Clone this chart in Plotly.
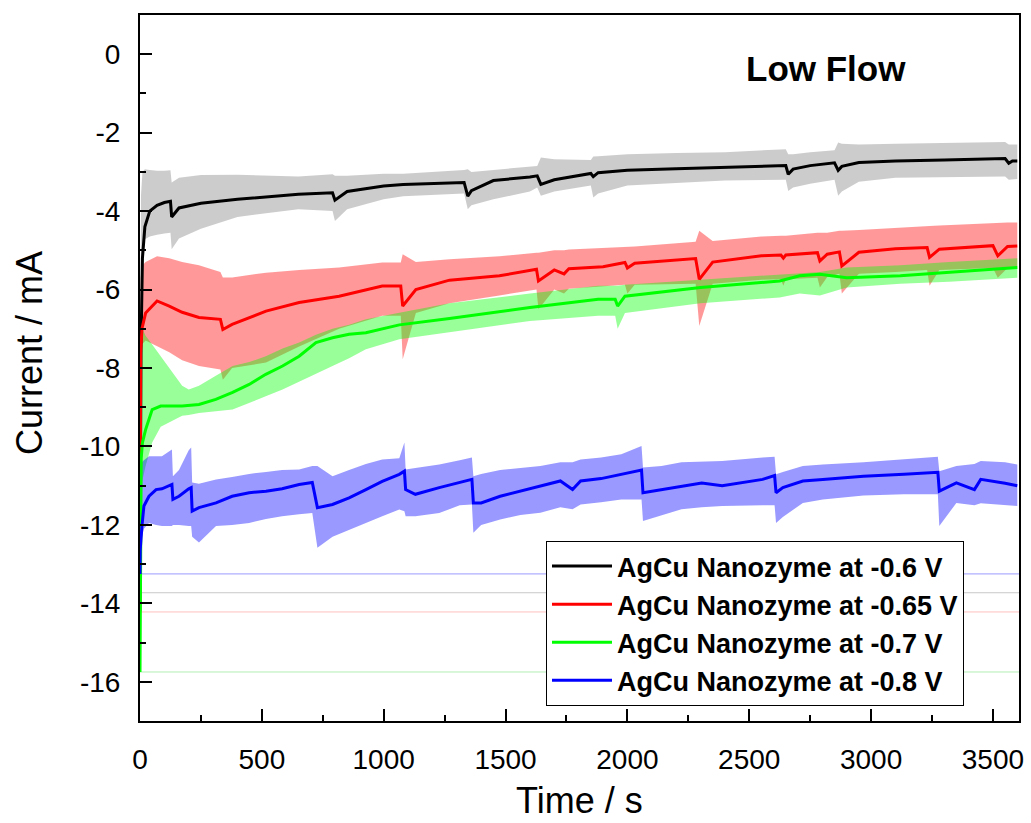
import plotly.graph_objects as go

# ---------------- data ----------------
names = ["AgCu Nanozyme at -0.6 V", "AgCu Nanozyme at -0.65 V",
         "AgCu Nanozyme at -0.7 V", "AgCu Nanozyme at -0.8 V"]

# -0.6 V
t_06 = [0, 4, 10, 20, 40, 70, 100, 125, 130, 160, 250, 400, 650, 790, 800, 850, 1000, 1080, 1330, 1345, 1360,
        1450, 1600, 1630, 1645, 1700, 1850, 1860, 1880, 2000, 2200, 2400, 2650, 2660, 2680, 2750, 2850, 2865,
        2880, 2950, 3100, 3300, 3550, 3565, 3580, 3600]
m_06 = [-13.7, -7.5, -5.2, -4.4, -4.0, -3.85, -3.78, -3.75, -4.15, -3.92, -3.8, -3.7, -3.57, -3.53, -3.72, -3.5,
        -3.36, -3.32, -3.27, -3.62, -3.48, -3.22, -3.13, -3.1, -3.32, -3.2, -3.04, -3.12, -3.02, -2.96, -2.92,
        -2.88, -2.84, -3.06, -2.93, -2.84, -2.77, -2.96, -2.86, -2.76, -2.72, -2.7, -2.66, -2.78, -2.72, -2.72]
hi_06 = [-13.7, -3.6, -3.0, -2.93, -2.95, -2.97, -2.97, -2.96, -3.27, -3.15, -3.08, -3.07, -3.12, -3.06, -3.1,
         -3.1, -3.05, -3.05, -2.95, -2.93, -3.0, -2.95, -2.85, -2.85, -2.63, -2.68, -2.7, -2.61, -2.6, -2.55,
         -2.52, -2.5, -2.42, -2.55, -2.55, -2.5, -2.45, -2.25, -2.28, -2.3, -2.28, -2.26, -2.24, -2.3, -2.3, -2.3]
lo_06 = [-13.7, -5.5, -4.9, -4.72, -4.65, -4.6, -4.57, -4.55, -4.97, -4.7, -4.45, -4.15, -3.95, -4.0, -4.25,
         -3.95, -3.7, -3.62, -3.55, -3.95, -3.85, -3.7, -3.5, -3.4, -3.61, -3.5, -3.35, -3.65, -3.55, -3.35,
         -3.28, -3.22, -3.2, -3.49, -3.4, -3.3, -3.2, -3.61, -3.5, -3.25, -3.15, -3.13, -3.12, -3.2, -3.2, -3.18]

# -0.65 V
t_065 = [0, 3, 8, 23, 70, 120, 173, 242, 330, 340, 378, 517, 653, 817, 994, 1070, 1078, 1132, 1270, 1475,
         1627, 1635, 1700, 1740, 1760, 1900, 1990, 2000, 2030, 2280, 2295, 2350, 2550, 2630, 2640, 2650, 2780,
         2790, 2820, 2870, 2880, 2950, 3100, 3230, 3240, 3280, 3500, 3520, 3560, 3600]
m_065 = [-14.2, -7.6, -7.0, -6.6, -6.29, -6.42, -6.58, -6.71, -6.76, -7.02, -6.89, -6.55, -6.33, -6.17, -5.91,
         -5.91, -6.42, -6.0, -5.76, -5.65, -5.48, -5.78, -5.5, -5.6, -5.47, -5.42, -5.31, -5.45, -5.33, -5.21,
         -5.74, -5.3, -5.14, -5.12, -5.2, -5.12, -5.06, -5.27, -5.1, -5.04, -5.4, -5.05, -4.96, -4.93, -5.18,
         -4.97, -4.88, -5.14, -4.9, -4.89]
hi_065 = [-14.2, -5.7, -5.4, -5.3, -5.15, -5.2, -5.3, -5.38, -5.55, -5.69, -5.69, -5.57, -5.5, -5.44, -5.31,
          -5.31, -5.1, -5.3, -5.23, -5.15, -5.06, -5.06, -5.0, -5.0, -4.98, -4.93, -4.9, -4.9, -4.9, -4.78, -4.5,
          -4.76, -4.65, -4.63, -4.63, -4.63, -4.55, -4.55, -4.55, -4.5, -4.5, -4.48, -4.42, -4.38, -4.38, -4.37,
          -4.3, -4.3, -4.29, -4.29]
lo_065 = [-14.2, -7.8, -7.4, -7.3, -7.44, -7.6, -7.8, -7.95, -8.04, -8.3, -8.0, -7.86, -7.45, -7.0, -6.67,
          -6.67, -7.78, -6.6, -6.35, -6.15, -6.0, -6.5, -6.0, -6.1, -5.98, -5.92, -5.88, -6.1, -5.88, -5.85,
          -6.93, -5.85, -5.75, -5.74, -5.9, -5.74, -5.7, -5.95, -5.68, -5.6, -6.1, -5.6, -5.55, -5.5, -5.9, -5.5,
          -5.45, -5.7, -5.45, -5.44]

# -0.7 V
t_07 = [0, 2, 5, 10, 23, 50, 85, 173, 200, 242, 311, 380, 448, 516, 585, 653, 722, 790, 858, 927, 1064, 1270,
        1600, 1880, 1950, 1960, 1990, 2300, 2625, 2707, 2790, 2900, 3120, 3320, 3600]
m_07 = [-15.75, -11.0, -10.3, -9.9, -9.57, -9.06, -8.97, -8.97, -8.95, -8.93, -8.8, -8.62, -8.42, -8.16, -7.95,
        -7.7, -7.35, -7.23, -7.14, -7.1, -6.9, -6.74, -6.46, -6.25, -6.25, -6.42, -6.17, -5.95, -5.78, -5.65,
        -5.61, -5.7, -5.65, -5.57, -5.44]
hi_07 = [-15.75, -7.5, -7.0, -7.0, -7.18, -7.4, -7.7, -8.45, -8.55, -8.45, -8.2, -7.95, -7.85, -7.7, -7.5,
         -7.35, -7.15, -7.0, -6.9, -6.76, -6.59, -6.35, -6.1, -5.9, -5.9, -5.9, -5.88, -5.75, -5.62, -5.57,
         -5.55, -5.44, -5.38, -5.3, -5.2]
lo_07 = [-15.75, -11.0, -11.0, -10.9, -10.5, -9.9, -9.5, -9.22, -9.2, -9.15, -9.1, -9.06, -8.9, -8.72, -8.55,
         -8.37, -8.15, -7.95, -7.75, -7.52, -7.27, -7.1, -6.8, -6.67, -6.67, -7.0, -6.6, -6.35, -6.2, -6.1,
         -6.15, -5.95, -5.85, -5.8, -5.7]

# -0.8 V
t_08 = [0, 1, 8, 16, 37, 66, 90, 131, 135, 160, 200, 210, 214, 242, 312, 378, 448, 517, 583, 653, 707, 728,
        790, 858, 927, 994, 1064, 1085, 1090, 1130, 1228, 1312, 1362, 1368, 1400, 1478, 1561, 1643, 1725, 1775,
        1808, 1892, 1975, 2058, 2064, 2140, 2222, 2305, 2389, 2555, 2604, 2610, 2638, 2720, 2802, 2969, 3135,
        3274, 3280, 3350, 3424, 3450, 3550, 3600]
m_08 = [-13.25, -12.63, -12.03, -11.52, -11.27, -11.1, -11.08, -10.97, -11.35, -11.27, -11.08, -11.05, -11.65,
        -11.56, -11.44, -11.27, -11.18, -11.14, -11.08, -10.97, -10.92, -11.56, -11.48, -11.31, -11.1, -10.89,
        -10.71, -10.63, -11.1, -11.22, -11.05, -10.91, -10.84, -11.44, -11.44, -11.27, -11.14, -11.0, -10.88,
        -11.1, -10.88, -10.82, -10.71, -10.6, -11.18, -11.1, -11.0, -10.93, -11.0, -10.84, -10.74, -11.18,
        -11.05, -10.88, -10.84, -10.76, -10.71, -10.66, -11.14, -10.93, -11.1, -10.84, -10.94, -11.0]
hi_08 = [-13.25, -10.4, -10.4, -10.35, -10.25, -10.25, -10.25, -10.08, -10.76, -10.6, -10.1, -10.03, -10.92,
         -10.95, -10.84, -10.78, -10.7, -10.65, -10.6, -10.59, -10.5, -10.5, -10.76, -10.6, -10.45, -10.33,
         -10.3, -9.9, -10.59, -10.55, -10.46, -10.35, -10.28, -10.76, -10.7, -10.6, -10.55, -10.5, -10.4,
         -10.4, -10.33, -10.28, -10.2, -9.99, -10.54, -10.5, -10.4, -10.38, -10.37, -10.28, -10.26, -10.71,
         -10.65, -10.5, -10.46, -10.4, -10.33, -10.26, -10.63, -10.5, -10.45, -10.37, -10.4, -10.46]
lo_08 = [-13.25, -12.9, -12.3, -12.1, -11.95, -12.0, -12.03, -12.03, -12.0, -12.0, -12.03, -12.03, -12.3,
         -12.45, -12.03, -12.0, -11.95, -11.85, -11.78, -11.73, -11.7, -12.58, -12.3, -12.12, -11.95, -11.78,
         -11.61, -11.65, -11.78, -11.78, -11.7, -11.5, -11.48, -12.2, -12.0, -11.86, -11.75, -11.69, -11.55,
         -11.6, -11.48, -11.42, -11.35, -11.35, -11.9, -11.75, -11.6, -11.55, -11.52, -11.5, -11.5, -11.95,
         -11.8, -11.44, -11.35, -11.25, -11.22, -11.22, -12.03, -11.44, -11.5, -11.45, -11.5, -11.52]

# thin horizontal traces visible across the plot (one per shaded band)
baselines = [-13.73, -14.22, -15.75, -13.25]

y_ticks = [0, -2, -4, -6, -8, -10, -12, -14, -16]
x_ticks = [0, 500, 1000, 1500, 2000, 2500, 3000, 3500]

# ---------------- styling ----------------
line_colors = ["#000000", "#FF0000", "#00FF00", "#0000FF"]
band_colors = ["rgba(0,0,0,0.2)", "rgba(255,0,0,0.4)", "rgba(0,255,0,0.4)", "rgba(0,0,255,0.4)"]
base_colors = ["rgba(0,0,0,0.22)", "rgba(255,0,0,0.25)", "rgba(0,200,0,0.3)", "rgba(0,0,255,0.4)"]

series = [(t_06, m_06, hi_06, lo_06), (t_065, m_065, hi_065, lo_065),
          (t_07, m_07, hi_07, lo_07), (t_08, m_08, hi_08, lo_08)]

FONT = "Liberation Sans, Arial, sans-serif"
X_MAX = 3607
L, R, T, B = 140, 12, 15, 102
W, H = 1031, 823
PW, PH = W - L - R, H - T - B

fig = go.Figure()

# baseline artifacts
for b, c in zip(baselines, base_colors):
    fig.add_trace(go.Scatter(x=[0, X_MAX], y=[b, b], mode="lines",
                             line=dict(color=c, width=1), showlegend=False, hoverinfo="skip"))

# shaded bands
for (t, m, hi, lo), c in zip(series, band_colors):
    fig.add_trace(go.Scatter(x=list(t) + list(t)[::-1], y=list(hi) + list(lo)[::-1],
                             fill="toself", fillcolor=c, mode="lines", line=dict(width=0),
                             showlegend=False, hoverinfo="skip"))

# mean lines
for (t, m, hi, lo), c, n in zip(series, line_colors, names):
    fig.add_trace(go.Scatter(x=t, y=m, mode="lines", name=n,
                             line=dict(color=c, width=3)))

fig.update_layout(
    width=W, height=H,
    margin=dict(l=L, r=R, t=T, b=B, autoexpand=False),
    paper_bgcolor="white", plot_bgcolor="white",
    font=dict(family=FONT, color="black"),
    showlegend=True,
    legend=dict(x=(546 - L) / PW, y=(H - B - 541) / PH, xanchor="left", yanchor="top",
                bgcolor="white", bordercolor="black", borderwidth=1,
                font=dict(family=FONT, size=27, color="black", weight="bold"),
                traceorder="normal", itemwidth=60),
    annotations=[
        dict(text="<b>Low Flow</b>", x=(826 - L) / PW, y=(H - B - 68) / PH, xref="paper", yref="paper",
             xanchor="center", yanchor="middle", showarrow=False,
             font=dict(family=FONT, size=35, color="black")),
        dict(text="Time / s", x=0.5, y=(H - B - 800) / PH, xref="paper", yref="paper",
             xanchor="center", yanchor="middle", showarrow=False,
             font=dict(family=FONT, size=36, color="black")),
        dict(text="Current / mA", x=(29 - L) / PW, y=(H - B - 353) / PH, xref="paper", yref="paper",
             xanchor="center", yanchor="middle", showarrow=False, textangle=-90,
             font=dict(family=FONT, size=36, color="black")),
    ],
)

fig.update_xaxes(range=[0, X_MAX], showgrid=False, zeroline=False, automargin=False,
                 showline=True, linecolor="black", linewidth=2, mirror=True,
                 ticks="inside", ticklen=12, tickwidth=2, tickcolor="black",
                 tickvals=x_ticks, ticktext=[str(v) for v in x_ticks],
                 tickfont=dict(family=FONT, size=28, color="black"),
                 ticklabelstandoff=12,
                 minor=dict(ticks="inside", dtick=250, tick0=0, ticklen=6, tickwidth=2, tickcolor="black"))

fig.update_yaxes(range=[-17, 1], showgrid=False, zeroline=False, automargin=False,
                 showline=True, linecolor="black", linewidth=2, mirror=True,
                 ticks="inside", ticklen=12, tickwidth=2, tickcolor="black",
                 tickvals=y_ticks, ticktext=[str(v) for v in y_ticks],
                 tickfont=dict(family=FONT, size=28, color="black"),
                 ticklabelstandoff=12,
                 minor=dict(ticks="inside", dtick=1, tick0=0, ticklen=6, tickwidth=2, tickcolor="black"))

fig.write_html("out.html")
